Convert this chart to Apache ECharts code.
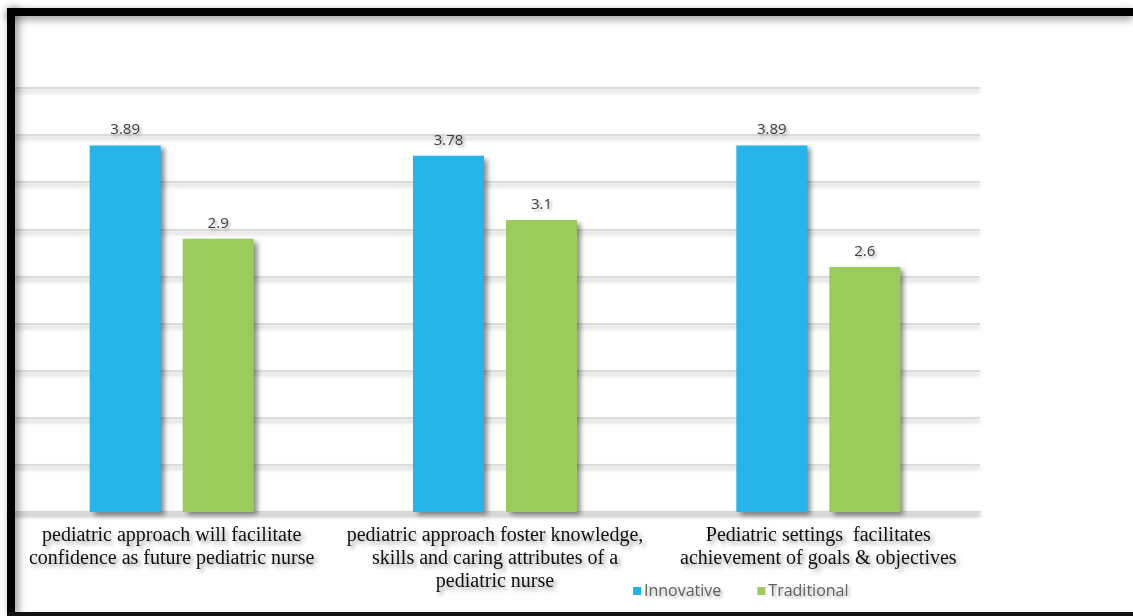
<!DOCTYPE html>
<html>
<head>
<meta charset="utf-8">
<script src="https://cdn.jsdelivr.net/npm/echarts@6/dist/echarts.min.js"></script>
<style>
  html, body { margin: 0; padding: 0; background: #fff; }
  #main { width: 1133px; height: 616px; }
</style>
</head>
<body>
<div id="main"></div>
<script>
  // categories and values
  const categories = [
    'pediatric approach will facilitate\nconfidence as future pediatric nurse',
    'pediatric approach foster knowledge,\nskills and caring attributes of a\npediatric nurse',
    'Pediatric settings  facilitates\nachievement of goals & objectives'
  ];
  const innovative = [3.89, 3.78, 3.89];
  const traditional = [2.9, 3.1, 2.6];
  const seriesNames = ['Innovative', 'Traditional'];

  const myChart = echarts.init(document.getElementById('main'));

  const barShadow = {
    shadowColor: 'rgba(0,0,0,0.45)',
    shadowBlur: 5,
    shadowOffsetX: 4,
    shadowOffsetY: 3
  };
  const labelStyle = {
    show: true,
    position: 'top',
    distance: 8,
    color: '#404040',
    fontFamily: 'Open Sans',
    fontSize: 15,
    textShadowColor: 'rgba(0,0,0,0.35)',
    textShadowBlur: 3,
    textShadowOffsetX: 2,
    textShadowOffsetY: 2
  };

  myChart.setOption({
    animation: false,
    backgroundColor: '#fff',
    grid: {
      left: 10,
      right: 153,
      top: 88,
      bottom: 104
    },
    legend: {
      data: seriesNames,
      left: 628,
      top: 578,
      itemWidth: 8,
      itemHeight: 8,
      itemGap: 36,
      icon: 'rect',
      textStyle: {
        color: '#606060',
        fontFamily: 'Open Sans',
        fontSize: 16,
        padding: [0, 0, 0, -2],
        textShadowColor: 'rgba(0,0,0,0.3)',
        textShadowBlur: 3,
        textShadowOffsetX: 2,
        textShadowOffsetY: 2
      }
    },
    xAxis: {
      type: 'category',
      data: categories,
      axisTick: { show: false },
      axisLine: {
        lineStyle: { color: '#d6d6d6', width: 2, shadowColor: 'rgba(0,0,0,0.25)', shadowBlur: 4, shadowOffsetY: 3 }
      },
      axisLabel: {
        interval: 0,
        margin: 12,
        color: '#111',
        fontFamily: 'Liberation Serif',
        fontSize: 20,
        lineHeight: 23,
        textShadowColor: 'rgba(0,0,0,0.4)',
        textShadowBlur: 4,
        textShadowOffsetX: 3,
        textShadowOffsetY: 3
      }
    },
    yAxis: {
      type: 'value',
      min: 0,
      max: 4.5,
      interval: 0.5,
      axisLabel: { show: false },
      axisTick: { show: false },
      axisLine: { show: true, lineStyle: { color: '#d0d0d0', width: 2 } },
      splitLine: {
        lineStyle: { color: '#dcdcdc', width: 2, shadowColor: 'rgba(0,0,0,0.25)', shadowBlur: 4, shadowOffsetY: 3 }
      }
    },
    series: [{
      name: seriesNames[0],
      type: 'bar',
      data: innovative,
      barWidth: 71,
      barGap: '31%',
      itemStyle: Object.assign({ color: '#27B4E8' }, barShadow),
      label: labelStyle
    }, {
      name: seriesNames[1],
      type: 'bar',
      data: traditional,
      barWidth: 71,
      itemStyle: Object.assign({ color: '#9BCB5D' }, barShadow),
      label: labelStyle
    }],
    // black picture frame
    graphic: [{
      type: 'rect',
      shape: { x: 7, y: 8, width: 1126, height: 8 },
      style: { fill: '#000', shadowColor: 'rgba(0,0,0,0.45)', shadowBlur: 8, shadowOffsetY: 3 },
      z: 100
    }, {
      type: 'rect',
      shape: { x: 7, y: 8, width: 8, height: 608 },
      style: { fill: '#000', shadowColor: 'rgba(0,0,0,0.45)', shadowBlur: 8, shadowOffsetX: 3 },
      z: 100
    }, {
      type: 'rect',
      shape: { x: 7, y: 612, width: 1126, height: 4 },
      style: { fill: '#111' },
      z: 100
    }]
  });

  window.addEventListener('resize', () => {
    myChart.resize();
  });
</script>
</body>
</html>
